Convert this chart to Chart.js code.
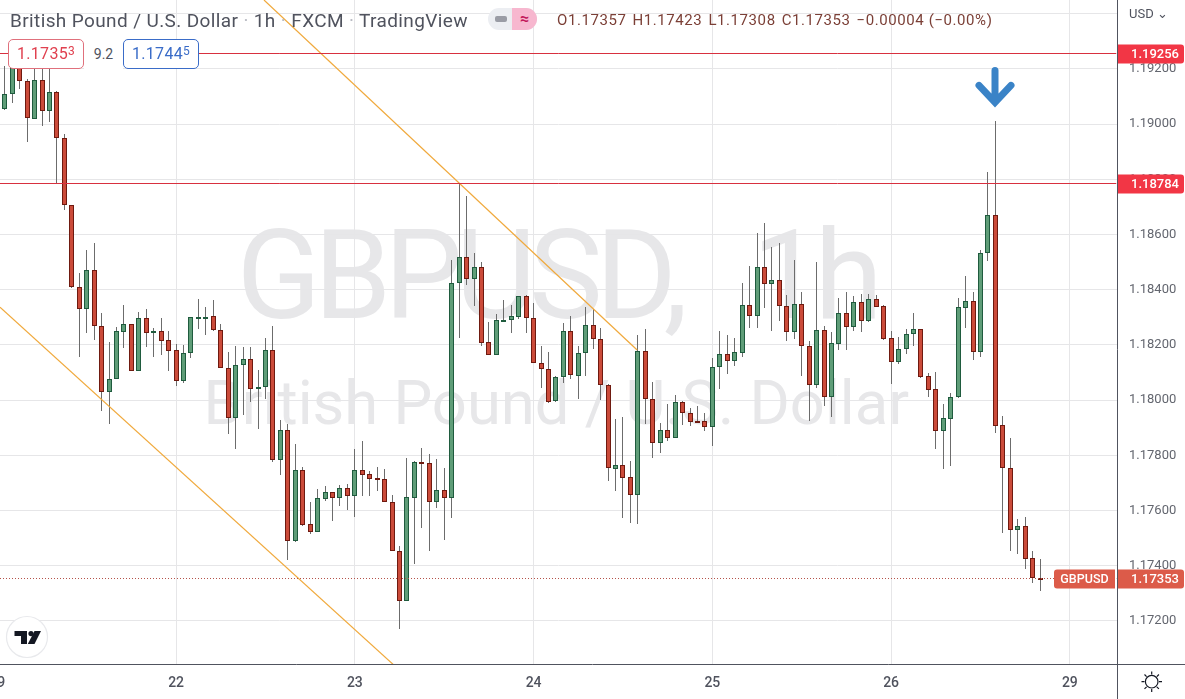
<!DOCTYPE html>
<html>
<head>
<meta charset="utf-8">
<title>GBPUSD 1h</title>
<script src="https://cdn.jsdelivr.net/npm/chart.js@4/dist/chart.umd.min.js"></script>
<style>
  html, body { margin: 0; padding: 0; background: #fff; overflow: hidden; }
  #wrap { position: relative; width: 1185px; height: 699px; font-family: Roboto, sans-serif; }
  canvas { position: absolute; left: 0; top: 0; }
  .abs { position: absolute; white-space: nowrap; }
  #title { left: 10px; top: 9px; font-size: 19px; line-height: 24px; color: #50535e; letter-spacing: 0.38px; }
  #title i { font-style: normal; color: #b8bac2; }
  #ohlc { left: 557px; top: 10px; font-size: 15px; line-height: 20px; color: #7b3f36; letter-spacing: 0.58px; }
  #ohlc span { margin-right: 6px; }
  #usd { left: 1129px; top: 6px; font-size: 13px; line-height: 16px; color: #50535e; }
  .box { height: 28px; line-height: 28px; background: #fff; border-radius: 5px; border: 1px solid; text-align: center; font-size: 16px; box-sizing: content-box; letter-spacing: 0.3px; }
  .box sup { font-size: 12px; line-height: 0; vertical-align: 4px; }
  #bid { left: 8px; top: 39px; width: 74px; color: #e0404f; border-color: #e0707c; }
  #ask { left: 123px; top: 39px; width: 74px; color: #3a6cc8; border-color: #3a6cc8; }
  #spread { left: 84px; top: 39px; width: 39px; height: 30px; line-height: 30px; text-align: center; font-size: 14px; color: #50535e; background: #fff; }
  #pill { left: 488px; top: 8px; width: 49px; height: 22px; border-radius: 11px; overflow: hidden; background: #eceef2; }
  #pill b { position: absolute; left: 7px; top: 8px; width: 12px; height: 6px; border-radius: 2px; background: #9a9ca5; }
  #pill div { position: absolute; left: 24px; top: 0; width: 25px; height: 22px; background: #f7b7cf; color: #c2185b; font-size: 16px; line-height: 21px; text-align: center; font-weight: 700; }
</style>
</head>
<body>
<div id="wrap">
  <canvas id="chart" width="1185" height="699"></canvas>
  <div class="abs" id="title">British Pound / U.S. Dollar <i>·</i> 1h <i>·</i> FXCM <i>·</i> TradingView</div>
  <div class="abs" id="pill"><b></b><div>≈</div></div>
  <div class="abs" id="ohlc"><span>O1.17357</span><span>H1.17423</span><span>L1.17308</span><span>C1.17353</span>−0.00004 (−0.00%)</div>
  <div class="abs" id="usd">USD ⌄</div>
  <div class="abs" id="spread">9.2</div>
  <div class="abs box" id="bid">1.1735<sup>3</sup></div>
  <div class="abs box" id="ask">1.1744<sup>5</sup></div>
  <svg class="abs" style="left:0;top:610px" width="60" height="56" viewBox="0 610 60 56">
    <circle cx="27" cy="637" r="20.5" fill="#fff" stroke="#e8e9ec" stroke-width="1.2"/>
    <polygon points="14.5,631 27,631 27,644 21,644 21,636 14.5,636" fill="#131722"/>
    <circle cx="31" cy="633.6" r="2.6" fill="#131722"/>
    <polygon points="34.5,631 41,631 34.5,644 27.8,644" fill="#131722"/>
  </svg>
  <svg class="abs" style="left:1140px;top:670px" width="24" height="24" viewBox="0 0 24 24" fill="none" stroke="#131722" stroke-width="1.2">
    <circle cx="11.7" cy="11.7" r="6.3"/>
    <path d="M11.7 1.5v3M11.7 19v3M1.5 11.7h3M19 11.7h3M4.5 4.5l2.1 2.1M16.8 16.8l2.1 2.1M4.5 18.9l2.1-2.1M16.8 6.6l2.1-2.1"/>
  </svg>
</div>

<script>
// Candles, one hour each
const opens = [
  1.19056,1.19108,1.19204,1.19155,1.19020,1.19159,1.19047,1.19116,1.18949,1.18706,
  1.18409,1.18329,1.18471,1.18269,1.18031,1.18076,1.18248,1.18275,1.18107,1.18297,
  1.18242,1.18250,1.18217,1.18181,1.18071,1.18170,1.18300,1.18299,1.18305,1.18253,
  1.18118,1.17937,1.18126,1.18148,1.18039,1.18047,1.18181,1.17784,1.17891,1.17489,
  1.17747,1.17550,1.17524,1.17643,1.17666,1.17647,1.17681,1.17654,1.17746,1.17731,
  1.17717,1.17713,1.17630,1.17453,1.17274,1.17647,1.17775,1.17771,1.17632,1.17674,
  1.17647,1.18424,1.18518,1.18440,1.18482,1.18210,1.18165,1.18287,1.18290,1.18303,
  1.18376,1.18297,1.18134,1.18112,1.17996,1.18085,1.18250,1.18089,1.18170,1.18271,
  1.18221,1.18054,1.17752,1.17764,1.17720,1.17658,1.18177,1.18003,1.17846,1.17891,
  1.17864,1.17992,1.17955,1.17924,1.17924,1.17904,1.18119,1.18166,1.18143,1.18172,
  1.18344,1.18306,1.18482,1.18420,1.18434,1.18342,1.18248,1.18347,1.18195,1.18056,
  1.18253,1.18013,1.18205,1.18315,1.18266,1.18355,1.18288,1.18366,1.18340,1.18224,
  1.18140,1.18184,1.18239,1.18257,1.18087,1.18039,1.17887,1.17933,1.18011,1.18335,
  1.18358,1.18176,1.18532,1.18670,1.17909,1.17753,1.17531,1.17543,1.17427,1.17357
];
const highs = [
  1.19211,1.19225,1.19225,1.19163,1.19204,1.19211,1.19211,1.19121,1.18963,1.18707,
  1.18460,1.18544,1.18568,1.18315,1.18210,1.18266,1.18345,1.18276,1.18318,1.18330,
  1.18260,1.18297,1.18250,1.18203,1.18200,1.18302,1.18367,1.18337,1.18363,1.18276,
  1.18174,1.18196,1.18194,1.18194,1.18109,1.18226,1.18269,1.17928,1.17914,1.17841,
  1.17757,1.17631,1.17677,1.17689,1.17668,1.17692,1.17696,1.17822,1.17852,1.17744,
  1.17757,1.17750,1.17655,1.17472,1.17790,1.17779,1.17826,1.17805,1.17786,1.17754,
  1.18508,1.18786,1.18740,1.18532,1.18500,1.18282,1.18311,1.18363,1.18345,1.18378,
  1.18381,1.18353,1.18196,1.18174,1.18086,1.18279,1.18305,1.18196,1.18337,1.18329,
  1.18260,1.18058,1.17932,1.17939,1.17780,1.18236,1.18257,1.18066,1.17916,1.17986,
  1.18018,1.17997,1.17972,1.17979,1.17953,1.18152,1.18251,1.18236,1.18224,1.18424,
  1.18486,1.18605,1.18641,1.18554,1.18571,1.18381,1.18508,1.18392,1.18214,1.18502,
  1.18268,1.18247,1.18369,1.18392,1.18378,1.18385,1.18385,1.18381,1.18345,1.18251,
  1.18229,1.18258,1.18315,1.18258,1.18097,1.18101,1.17985,1.18025,1.18369,1.18450,
  1.18391,1.18544,1.18826,1.19012,1.17943,1.17862,1.17570,1.17577,1.17454,1.17423
];
const lows = [
  1.19051,1.19078,1.19129,1.18937,1.19018,1.18995,1.19008,1.18786,1.18689,1.18407,
  1.18158,1.18245,1.18218,1.17962,1.17914,1.18076,1.18190,1.18105,1.18105,1.18194,
  1.18158,1.18164,1.18107,1.18053,1.18061,1.18154,1.18258,1.18236,1.18252,1.18116,
  1.17878,1.17823,1.17946,1.17995,1.17896,1.18004,1.17777,1.17729,1.17421,1.17487,
  1.17544,1.17515,1.17523,1.17636,1.17563,1.17617,1.17602,1.17576,1.17654,1.17654,
  1.17672,1.17630,1.17452,1.17170,1.17272,1.17407,1.17538,1.17455,1.17610,1.17494,
  1.17574,1.18226,1.18418,1.18341,1.18196,1.18164,1.18164,1.18284,1.18245,1.18295,
  1.18245,1.18133,1.18045,1.17991,1.17995,1.18061,1.18078,1.18005,1.18088,1.18187,
  1.18001,1.17708,1.17672,1.17574,1.17556,1.17551,1.17914,1.17792,1.17810,1.17853,
  1.17862,1.17911,1.17907,1.17918,1.17889,1.17835,1.18042,1.18096,1.18124,1.18158,
  1.18263,1.18263,1.18335,1.18252,1.18288,1.18216,1.18223,1.18089,1.17926,1.18045,
  1.17980,1.17940,1.18182,1.18182,1.18252,1.18248,1.18284,1.18338,1.18219,1.18059,
  1.18131,1.18167,1.18196,1.18079,1.18013,1.17822,1.17752,1.17763,1.18009,1.18260,
  1.18146,1.18158,1.18504,1.17882,1.17520,1.17455,1.17443,1.17388,1.17337,1.17308
];
const closes = [
  1.19108,1.19204,1.19155,1.19021,1.19159,1.19047,1.19116,1.18949,1.18706,1.18409,
  1.18329,1.18471,1.18269,1.18031,1.18076,1.18250,1.18275,1.18107,1.18297,1.18242,
  1.18251,1.18216,1.18179,1.18071,1.18170,1.18300,1.18301,1.18303,1.18253,1.18118,
  1.17937,1.18126,1.18148,1.18039,1.18047,1.18181,1.17784,1.17891,1.17489,1.17747,
  1.17548,1.17524,1.17645,1.17666,1.17647,1.17681,1.17654,1.17746,1.17730,1.17716,
  1.17712,1.17630,1.17453,1.17274,1.17648,1.17775,1.17770,1.17632,1.17674,1.17647,
  1.18424,1.18518,1.18440,1.18482,1.18208,1.18165,1.18290,1.18290,1.18304,1.18376,
  1.18297,1.18134,1.18112,1.17993,1.18085,1.18250,1.18090,1.18170,1.18271,1.18221,
  1.18054,1.17753,1.17764,1.17719,1.17658,1.18177,1.18003,1.17846,1.17891,1.17864,
  1.17992,1.17955,1.17922,1.17921,1.17904,1.18119,1.18166,1.18143,1.18174,1.18344,
  1.18306,1.18482,1.18420,1.18434,1.18342,1.18248,1.18347,1.18195,1.18056,1.18253,
  1.18013,1.18206,1.18315,1.18266,1.18355,1.18288,1.18366,1.18339,1.18223,1.18140,
  1.18184,1.18239,1.18257,1.18085,1.18038,1.17887,1.17934,1.18011,1.18337,1.18358,
  1.18176,1.18532,1.18670,1.17908,1.17753,1.17531,1.17543,1.17426,1.17357,1.17353
];

// Day ticks sit on the candle index where the day starts
const dayTickIndex = [-1, 23, 47, 71, 95, 119, 143];
const dayLabels = ['19', '22', '23', '24', '25', '26', '29'];
const priceTicks = [1.172, 1.174, 1.176, 1.178, 1.18, 1.182, 1.184, 1.186, 1.188, 1.19, 1.192, 1.194];
const priceLabels = ['1.17200', '1.17400', '1.17600', '1.17800', '1.18000', '1.18200', '1.18400', '1.18600', '1.18800', '1.19000', '1.19200', ''];

// Drawn levels and trend lines, as [candle index, price]
const levelPrices = [1.19256, 1.18784];
const levelLabels = ['1.19256', '1.18784'];
const lastPrice = 1.17353;
const trendUpper = [[34.8, 1.1945], [84.9, 1.18182]];
const trendLower = [[-0.644, 1.18337], [52.17, 1.17042]];
const arrowIndex = 133;
const arrowPrice = 1.19195;

const UP = '#5f9d78', UP_EDGE = '#1f5b3e';
const DOWN = '#cb4b3a', DOWN_EDGE = '#6f1a10';
const xMin = -0.644, xMax = 149.26;
const idx = opens.map((_, i) => i);

function lineSet(points, color, width, dash) {
  return {
    type: 'line',
    data: points.map(p => ({ x: p[0], y: p[1] })),
    borderColor: color,
    borderWidth: width,
    borderDash: dash || [],
    pointRadius: 0,
    order: 1
  };
}

// The labels must not push the plot area in from the canvas edges
function noPadding(scale) {
  scale.paddingLeft = scale.paddingRight = scale.paddingTop = scale.paddingBottom = 0;
}

// Keep candles and level lines on whole pixels, so they stay as crisp as the original
const snapPlugin = {
  id: 'snap',
  afterDatasetsUpdate(chart) {
    chart.data.datasets.forEach((ds, i) => {
      const meta = chart.getDatasetMeta(i);
      if (ds.type === 'line') {
        if (!ds.flat) return;
        meta.data.forEach(pt => { pt.y = Math.floor(pt.y) + 0.5; });
        return;
      }
      meta.data.forEach(el => {
        el.x = Math.floor(el.x) + 0.5;
        el.y = Math.round(el.y);
        el.base = Math.round(el.base);
        if (ds.isBody && Math.abs(el.base - el.y) < 2) el.base = el.y + 2;
      });
    });
  }
};

const watermarkPlugin = {
  id: 'watermark',
  beforeDraw(chart) {
    const { ctx, chartArea: a } = chart;
    const cx = (a.left + a.right) / 2 - 2;
    ctx.save();
    ctx.fillStyle = '#e7e7e9';
    ctx.textAlign = 'center';
    ctx.textBaseline = 'alphabetic';
    ctx.font = '124px Roboto';
    ctx.letterSpacing = '-7px';
    ctx.wordSpacing = '47px';
    ctx.fillText('GBPUSD, 1h', cx, 318);
    ctx.letterSpacing = '0px';
    ctx.wordSpacing = '0px';
    ctx.font = '61.5px Roboto';
    ctx.fillText('British Pound / U.S. Dollar', cx, 424);
    ctx.restore();
  }
};

function badge(ctx, y, left, right, color, text, bold) {
  ctx.fillStyle = color;
  ctx.beginPath();
  ctx.roundRect(left, Math.round(y) - 9.5, right - left, 19, [0, 3, 3, 0]);
  ctx.fill();
  ctx.fillStyle = '#fff';
  ctx.font = (bold ? '500 ' : '') + '13px Roboto';
  ctx.textAlign = 'left';
  ctx.textBaseline = 'middle';
  ctx.fillText(text, left + 13, Math.round(y) + 0.5);
}

// Axis extensions, price badges and the blue arrow, placed through the scales
const overlayPlugin = {
  id: 'overlay',
  afterDraw(chart) {
    const { ctx, chartArea: a, scales } = chart;
    ctx.save();
    ctx.strokeStyle = '#50535e';
    ctx.lineWidth = 1;
    ctx.beginPath();
    ctx.moveTo(Math.round(a.right) + 0.5, 0);
    ctx.lineTo(Math.round(a.right) + 0.5, chart.height);
    ctx.moveTo(0, Math.round(a.bottom) + 0.5);
    ctx.lineTo(chart.width, Math.round(a.bottom) + 0.5);
    ctx.stroke();

    const axisLeft = Math.round(a.right) + 1;
    levelPrices.forEach((p, i) => {
      badge(ctx, scales.y.getPixelForValue(p), axisLeft, 1184, '#f23645', levelLabels[i], true);
    });
    const lastY = scales.y.getPixelForValue(lastPrice);
    badge(ctx, lastY, axisLeft, 1184, '#dc5b49', lastPrice.toFixed(5), true);
    ctx.fillStyle = '#dc5b49';
    ctx.beginPath();
    ctx.roundRect(1054, Math.round(lastY) - 9.5, 61, 19, [3, 0, 0, 3]);
    ctx.fill();
    ctx.fillStyle = '#fff';
    ctx.font = '500 12.5px Roboto';
    ctx.textAlign = 'center';
    ctx.fillText('GBPUSD', 1084.5, Math.round(lastY) + 0.5);

    // arrow tip at arrowPrice, above the long wick
    const ax = Math.round(scales.x.getPixelForValue(arrowIndex));
    const ay = scales.y.getPixelForValue(arrowPrice) + 35;
    ctx.strokeStyle = '#3a83c7';
    ctx.lineWidth = 7;
    ctx.lineCap = 'round';
    ctx.lineJoin = 'miter';
    ctx.beginPath();
    ctx.moveTo(ax, ay - 35);
    ctx.lineTo(ax, ay - 4);
    ctx.moveTo(ax - 16, ay - 20);
    ctx.lineTo(ax, ay - 3);
    ctx.lineTo(ax + 16, ay - 20);
    ctx.stroke();
    ctx.restore();
  }
};

new Chart(document.getElementById('chart'), {
  type: 'bar',
  data: {
    datasets: [
      {
        // wicks
        data: idx.map(i => ({ x: i, y: [lows[i], highs[i]] })),
        backgroundColor: '#6c6c6c',
        borderWidth: 0,
        barThickness: 1,
        inflateAmount: 0,
        grouped: false,
        order: 3
      },
      {
        // bodies
        isBody: true,
        data: idx.map(i => ({ x: i, y: [opens[i], closes[i]] })),
        backgroundColor: idx.map(i => closes[i] >= opens[i] ? UP : DOWN),
        borderColor: idx.map(i => closes[i] >= opens[i] ? UP_EDGE : DOWN_EDGE),
        borderWidth: 1,
        borderSkipped: false,
        barThickness: 5,
        inflateAmount: 0,
        grouped: false,
        order: 2
      },
      Object.assign(lineSet([[xMin, levelPrices[0]], [xMax, levelPrices[0]]], '#d8303f', 1), { flat: true }),
      Object.assign(lineSet([[xMin, levelPrices[1]], [xMax, levelPrices[1]]], '#d8303f', 1), { flat: true }),
      Object.assign(lineSet([[xMin, lastPrice], [xMax, lastPrice]], '#b5534a', 1, [1, 2]), { flat: true }),
      lineSet(trendUpper, '#f0a93c', 1.2),
      lineSet(trendLower, '#f0a93c', 1.2)
    ]
  },
  options: {
    responsive: false,
    animation: false,
    events: [],
    layout: { padding: 0 },
    plugins: { legend: { display: false }, tooltip: { enabled: false } },
    scales: {
      x: {
        type: 'linear',
        offset: false,
        bounds: 'data',
        min: xMin,
        max: xMax,
        grid: { color: '#e6e6e8', offset: false, drawTicks: false },
        border: { display: false },
        afterBuildTicks(scale) { scale.ticks = dayTickIndex.map(v => ({ value: v })); },
        afterFit(scale) { scale.height = 35; noPadding(scale); },
        ticks: {
          autoSkip: false,
          maxRotation: 0,
          minRotation: 0,
          padding: 11,
          color: '#50535e',
          font: { family: 'Roboto', size: 14, weight: '500' },
          callback: (v) => dayLabels[dayTickIndex.indexOf(v)]
        }
      },
      y: {
        position: 'right',
        min: 1.170442,
        max: 1.1945,
        grid: { color: '#e6e6e8', drawTicks: false },
        border: { display: false },
        afterBuildTicks(scale) { scale.ticks = priceTicks.map(v => ({ value: v })); },
        afterFit(scale) { scale.width = 68.5; noPadding(scale); },
        ticks: {
          padding: 12.5,
          color: '#63666f',
          font: { family: 'Roboto', size: 13 },
          callback: (v) => priceLabels[priceTicks.indexOf(v)]
        }
      }
    }
  },
  plugins: [snapPlugin, watermarkPlugin, overlayPlugin]
});
</script>
</body>
</html>
